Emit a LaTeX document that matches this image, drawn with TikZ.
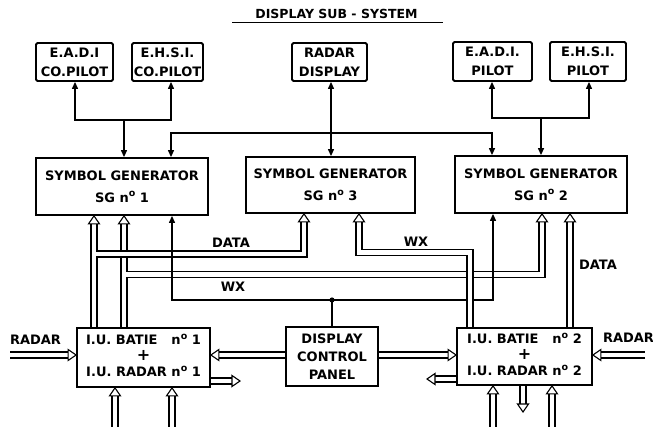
\documentclass[tikz,border=0pt]{standalone}
\usepackage{fontspec}
\setmainfont{DejaVu Sans}
\usetikzlibrary{arrows.meta,calc}
\pgfdeclarelayer{bg}\pgfdeclarelayer{fg}\pgfsetlayers{bg,main,fg}
\newcommand\numo{n\raisebox{0.42em}{\fontsize{9.5}{9.5}\selectfont o}}
\newcommand\bigplus{{\fontsize{16}{16}\selectfont +}}
\begin{document}
\begin{tikzpicture}[x=1pt,y=-1pt,
  box/.style={draw,line width=1.8pt,fill=white,inner sep=0pt,align=center,
    font=\bfseries\fontsize{13}{19}\selectfont},
  dbox/.style={box,rounded corners=1.5pt},
  sgbox/.style={box,font=\bfseries\fontsize{13}{22}\selectfont},
  wire/.style={line width=1.2pt},
  fa/.style={-{Triangle[length=7pt,width=6pt]}},
  dfa/.style={{Triangle[length=7pt,width=6pt]}-{Triangle[length=7pt,width=6pt]}},
  pipeo/.style={line width=7.5pt,line join=miter},
  pipei/.style={line width=4.5pt,white,line join=miter},
  lbl/.style={font=\bfseries\fontsize{13}{13}\selectfont,inner sep=0pt},
  harrow/.pic={\draw[line width=1.1pt,fill=white,line join=miter] (0,0)--(-8,5.5)--(-8,-5.5)--cycle;}
]
\useasboundingbox (0,0) rectangle (653,426);
% x positions
\coordinate (xa) at (75,0);  \coordinate (xb) at (171,0); \coordinate (xc) at (124,0);
\coordinate (xr) at (331,0); \coordinate (xd) at (492,0); \coordinate (xe) at (589,0);
\coordinate (xf) at (541,0);
\coordinate (p1) at (94,0);  \coordinate (p2) at (124,0); \coordinate (s1) at (172,0);
\coordinate (p3) at (304,0); \coordinate (p4) at (359,0); \coordinate (p5) at (470,0);
\coordinate (s2) at (493,0); \coordinate (p6) at (542,0); \coordinate (p7) at (570,0);
\coordinate (q1) at (115,0); \coordinate (q2) at (172,0); \coordinate (q3) at (493,0);
\coordinate (q4) at (552,0); \coordinate (q5) at (523,0);
% y levels
\coordinate (j1) at (0,120); \coordinate (j2) at (0,118); \coordinate (hh) at (0,133);
\coordinate (yd) at (0,254); \coordinate (yw) at (0,252.5); \coordinate (yb) at (0,274.5);
\coordinate (ys) at (0,300); \coordinate (yr) at (0,355); \coordinate (yo1) at (0,381);
\coordinate (yo2) at (0,379); \coordinate (ybot) at (0,430);
% free ends
\coordinate (rl) at (10,355); \coordinate (rr) at (645,355);
\coordinate (o1) at (240,381); \coordinate (o2) at (427,379); \coordinate (o3) at (523,412);
\coordinate (dot) at (332,300);
\coordinate (ul1) at (232,22.5); \coordinate (ul2) at (443,22.5);

% title
\node[lbl,font=\bfseries\fontsize{12.5}{12.5}\selectfont] (title) at (336.5,14) {DISPLAY SUB - SYSTEM};
\draw[line width=1.4pt] (ul1) -- (ul2);

% boxes
\node[dbox,minimum width=77pt,minimum height=38pt] (eadic) at (74.5,62) {E.A.D.I\\CO.PILOT};
\node[dbox,minimum width=71pt,minimum height=38pt] (ehsic) at (167.5,62) {E.H.S.I.\\CO.PILOT};
\node[dbox,minimum width=75pt,minimum height=38pt] (radar) at (329.5,62) {RADAR\\DISPLAY};
\node[dbox,minimum width=79pt,minimum height=39pt] (eadip) at (492.5,61.5) {E.A.D.I.\\PILOT};
\node[dbox,minimum width=76pt,minimum height=39pt] (ehsip) at (588,61.5) {E.H.S.I.\\PILOT};

\node[sgbox,minimum width=172pt,minimum height=57pt] (sg1) at (122,186.5) {SYMBOL GENERATOR\\SG \numo\ 1};
\node[sgbox,minimum width=169pt,minimum height=56pt] (sg3) at (330.5,185) {SYMBOL GENERATOR\\SG \numo\ 3};
\node[sgbox,minimum width=172pt,minimum height=57pt] (sg2) at (541,184.5) {SYMBOL GENERATOR\\SG \numo\ 2};

\node[box,minimum width=133pt,minimum height=59pt,font=\bfseries\fontsize{13}{16}\selectfont] (iu1) at (143.5,357.5)
  {\begin{tabular}{@{}r@{}}I.U. BATIE\hspace{14pt}\numo\ 1\\ \multicolumn{1}{@{}c@{}}{\bigplus}\\ I.U. RADAR \numo\ 1\end{tabular}};
\node[box,minimum width=92pt,minimum height=59pt,font=\bfseries\fontsize{13}{18}\selectfont] (dcp) at (332,356.5)
  {DISPLAY\\CONTROL\\PANEL};
\node[box,minimum width=135pt,minimum height=57pt,font=\bfseries\fontsize{13}{16}\selectfont] (iu2) at (524.5,356.5)
  {\begin{tabular}{@{}l@{}r@{}}I.U. BATIE & \numo\ 2\\ \multicolumn{2}{@{}c@{}}{\bigplus}\\ \multicolumn{2}{@{}l@{}}{I.U. RADAR \numo\ 2}\end{tabular}};

% labels
\node[lbl] (ldata1) at (231,243) {DATA};
\node[lbl] (lwx1) at (233,287) {WX};
\node[lbl] (lwx2) at (416,242) {WX};
\node[lbl] (ldata2) at (598,265) {DATA};
\node[lbl] (lradl) at (35.5,340) {RADAR};
\node[lbl] (lradr) at (628.5,338) {RADAR};

% pipes (background)
\begin{pgfonlayer}{bg}
\foreach \st in {pipeo,pipei}{
  \draw[\st] (iu1.north -| p2) -- ($(sg1.south -| p2)+(0,8)$)
        (p2 |- yb) -- (p6 |- yb) -- ($(sg2.south -| p6)+(0,8)$);
}
\foreach \st in {pipeo,pipei}{
  \draw[\st] (iu1.north -| p1) -- ($(sg1.south -| p1)+(0,8)$)
        (p1 |- yd) -- (p3 |- yd) -- ($(sg3.south -| p3)+(0,8)$);
}
\foreach \st in {pipeo,pipei}{
  \draw[\st] (iu2.north -| p7) -- ($(sg2.south -| p7)+(0,8)$);
  \draw[\st] (rl) -- ($(iu1.west |- yr)+(-8,0)$);
  \draw[\st] (dcp.west |- yr) -- ($(iu1.east |- yr)+(8,0)$);
  \draw[\st] (dcp.east |- yr) -- ($(iu2.west |- yr)+(-8,0)$);
  \draw[\st] (rr) -- ($(iu2.east |- yr)+(8,0)$);
  \draw[\st] (iu1.east |- yo1) -- ($(o1)+(-8,0)$);
  \draw[\st] (iu2.west |- yo2) -- ($(o2)+(8,0)$);
  \draw[\st] (q1 |- ybot) -- ($(iu1.south -| q1)+(0,8)$);
  \draw[\st] (q2 |- ybot) -- ($(iu1.south -| q2)+(0,8)$);
  \draw[\st] (q3 |- ybot) -- ($(iu2.south -| q3)+(0,8)$);
  \draw[\st] (q4 |- ybot) -- ($(iu2.south -| q4)+(0,8)$);
  \draw[\st] (iu2.south -| q5) -- ($(o3)+(0,-8)$);
}
\end{pgfonlayer}

% single wires
\draw[wire,dfa] (eadic.south -| xa) -- (xa |- j1) -- (xb |- j1) -- (ehsic.south -| xb);
\draw[wire,fa] (xc |- j1) -- (sg1.north -| xc);
\draw[wire,dfa] (sg1.north -| xb) -- (xb |- hh) -- (xd |- hh) -- (sg2.north -| xd);
\draw[wire,dfa] (radar.south -| xr) -- (sg3.north -| xr);
\draw[wire,dfa] (eadip.south -| xd) -- (xd |- j2) -- (xe |- j2) -- (ehsip.south -| xe);
\draw[wire,fa] (xf |- j2) -- (sg2.north -| xf);
\draw[wire,dfa] (sg1.south -| s1) -- (s1 |- ys) -- (s2 |- ys) -- (sg2.south -| s2);
\draw[wire] (dot) -- (dcp.north -| dot);
\fill (dot) circle (2.6pt);

% foreground: WX pipe and hollow heads
\begin{pgfonlayer}{fg}
\foreach \st in {pipeo,pipei}{
  \draw[\st] ($(sg3.south -| p4)+(0,8)$) -- (p4 |- yw) -- (p5 |- yw) -- (iu2.north -| p5);
}
\foreach \c/\n in {p1/sg1,p2/sg1,p3/sg3,p4/sg3,p6/sg2,p7/sg2}{
  \pic[rotate=90] at (\n.south -| \c) {harrow};
}
\foreach \c/\n in {q1/iu1,q2/iu1,q3/iu2,q4/iu2}{
  \pic[rotate=90] at (\n.south -| \c) {harrow};
}
\pic at (iu1.west |- yr) {harrow};
\pic[rotate=180] at (iu1.east |- yr) {harrow};
\pic at (iu2.west |- yr) {harrow};
\pic[rotate=180] at (iu2.east |- yr) {harrow};
\pic at (o1) {harrow};
\pic[rotate=180] at (o2) {harrow};
\pic[rotate=-90] at (o3) {harrow};
\end{pgfonlayer}
\end{tikzpicture}
\end{document}
